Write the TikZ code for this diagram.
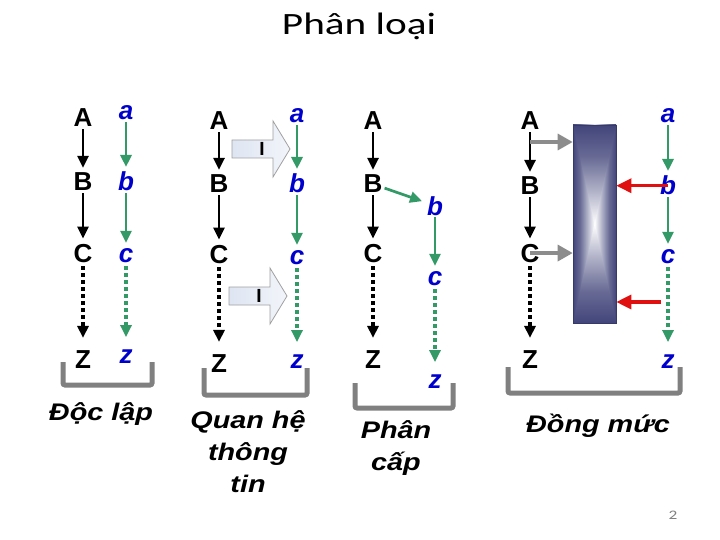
\documentclass[tikz,border=0pt]{standalone}
\usepackage{fontspec}
\setmainfont{Liberation Sans}
\newfontfamily\labelfont[FakeStretch=1.2]{Liberation Sans}
\newfontfamily\titlefont[FakeStretch=1.33]{Carlito}
\usetikzlibrary{arrows.meta}
\colorlet{letterBlue}{blue!80!black}
\definecolor{flowGreen}{RGB}{51,153,102}
\colorlet{bracketGray}{gray}
\definecolor{pushGrayColor}{RGB}{140,140,140}
\definecolor{pushRedColor}{RGB}{225,16,16}
\definecolor{gateDark}{RGB}{66,69,122}
\definecolor{gateEdge}{RGB}{55,58,105}
\definecolor{blockFill}{RGB}{222,229,242}
\definecolor{blockEdge}{RGB}{160,160,160}
\colorlet{gateMid}{gateDark!80!white}
\colorlet{gateLight}{gateDark!40!white}
\pgfdeclarehorizontalshading{gateAcross}{100bp}{color(0bp)=(gateDark); color(25bp)=(gateDark); color(33bp)=(gateMid); color(42bp)=(gateLight); color(50bp)=(white); color(58bp)=(gateLight); color(67bp)=(gateMid); color(75bp)=(gateDark); color(100bp)=(gateDark)}
\pgfdeclareverticalshading{gateAlong}{100bp}{color(0bp)=(gateDark); color(25bp)=(gateDark); color(33bp)=(gateMid); color(42bp)=(gateLight); color(50bp)=(white); color(58bp)=(gateLight); color(67bp)=(gateMid); color(75bp)=(gateDark); color(100bp)=(gateDark)}

\begin{document}
\begin{tikzpicture}[x=1pt,y=-1pt,
bigLetter/.style={font=\bfseries\fontsize{26}{26}\selectfont,inner sep=2pt,anchor=base},
smallLetter/.style={font=\bfseries\itshape\fontsize{26}{26}\selectfont,text=letterBlue,inner sep=2pt,anchor=base},
chainArrow/.style={line width=2.7pt,-{Triangle[width=11pt,length=12pt]},shorten >=3pt},
chainDots/.style={chainArrow,line width=3.4pt,dash pattern=on 4pt off 3pt,shorten >=10pt,shorten <=2pt},
flowArrow/.style={chainArrow,flowGreen},
flowDots/.style={chainDots,flowGreen},
pushGray/.style={pushGrayColor,line width=3.2pt,-{Triangle[width=16pt,length=15pt]}},
pushRed/.style={pushRedColor,line width=3.2pt,-{Triangle[width=14pt,length=15pt]}},
bracketLine/.style={bracketGray,line width=5pt,rounded corners=2pt},
caption/.style={font=\labelfont\bfseries\itshape\fontsize{24}{32}\selectfont,align=center,anchor=base,inner sep=0pt},
infoMark/.style={font=\bfseries\fontsize{19}{19}\selectfont,inner sep=0pt},
infoArrow/.pic={
\draw[blockEdge,line width=0.8pt,left color=blockFill,right color=blockFill!40!white]
(0,-9) -- (41,-9) -- (41,-28) -- (58,0) -- (41,28) -- (41,9) -- (0,9) -- cycle;
\node[infoMark] (-mark) at (30,0) {I};
},
gate/.style={draw=gateEdge,line width=0.6pt,minimum width=43pt,minimum height=198pt,inner sep=0pt,
path picture={
\shade[shading=gateAcross] (path picture bounding box.south west) rectangle (path picture bounding box.north east);
\begin{scope}
\clip (path picture bounding box.north west) -- (path picture bounding box.north east) -- (path picture bounding box.center) -- cycle
(path picture bounding box.south west) -- (path picture bounding box.south east) -- (path picture bounding box.center) -- cycle;
\shade[shading=gateAlong] (path picture bounding box.south west) rectangle (path picture bounding box.north east);
\end{scope}
}}]
\fill[white] (0,0) rectangle (720,540);
\useasboundingbox (0,0) rectangle (720,540);

\node[font=\titlefont\fontsize{31}{31}\selectfont,anchor=base,inner sep=0pt] (heading) at (359,35) {Phân loại};

% doc lap
\node[bigLetter] (A1) at (83,127) {A};
\node[bigLetter] (B1) at (83,191) {B};
\node[bigLetter] (C1) at (83,262) {C};
\node[bigLetter] (Z1) at (83,368) {Z};
\node[smallLetter] (a1) at (126,120) {a};
\node[smallLetter] (b1) at (126,191) {b};
\node[smallLetter] (c1) at (126,262) {c};
\node[smallLetter] (z1) at (126,363) {z};
\draw[chainArrow] (A1) -- (B1);
\draw[chainArrow] (B1) -- (C1);
\draw[chainDots] (C1) -- (Z1);
\draw[flowArrow] (a1) -- (b1);
\draw[flowArrow] (b1) -- (c1);
\draw[flowDots] (c1) -- (z1);
\draw[bracketLine] (63,362) |- (152,385) -- (152,362);
\node[caption] (indep) at (101,420) {Độc lập};

% quan he thong tin
\node[bigLetter] (A2) at (219,130) {A};
\node[bigLetter] (B2) at (219,193) {B};
\node[bigLetter] (C2) at (219,263) {C};
\node[bigLetter] (Z2) at (219,372) {Z};
\node[smallLetter] (a2) at (297,123) {a};
\node[smallLetter] (b2) at (297,193) {b};
\node[smallLetter] (c2) at (297,264) {c};
\node[smallLetter] (z2) at (297,368) {z};
\draw[chainArrow] (A2) -- (B2);
\draw[chainArrow] (B2) -- (C2);
\draw[chainDots] (C2) -- (Z2);
\draw[flowArrow] (a2) -- (b2);
\draw[flowArrow] (b2) -- (c2);
\draw[flowDots] (c2) -- (z2);
\pic (inform1) at (232,149) {infoArrow};
\pic (inform2) at (229,296) {infoArrow};
\draw[bracketLine] (204,368) |- (307,395) -- (307,368);
\node[caption] (relate) at (248,492) {Quan hệ\\thông\\tin};

% phan cap
\node[bigLetter] (A3) at (373,130) {A};
\node[bigLetter] (B3) at (373,193) {B};
\node[bigLetter] (C3) at (373,262) {C};
\node[bigLetter] (Z3) at (373,368) {Z};
\node[smallLetter] (b3) at (435,215) {b};
\node[smallLetter] (c3) at (435,285) {c};
\node[smallLetter] (z3) at (435,388) {z};
\draw[chainArrow] (A3) -- (B3);
\draw[chainArrow] (B3) -- (C3);
\draw[chainDots] (C3) -- (Z3);
\draw[flowArrow] (B3) -- (b3);
\draw[flowArrow] (b3) -- (c3);
\draw[flowDots] (c3) -- (z3);
\draw[bracketLine] (355,383) |- (453,408) -- (453,383);
\node[caption] (level) at (396,470) {Phân\\cấp};

% dong muc
\node[bigLetter] (A4) at (530,130) {A};
\node[bigLetter] (B4) at (530,195) {B};
\node[bigLetter] (C4) at (530,262) {C};
\node[bigLetter] (Z4) at (530,368) {Z};
\node[smallLetter] (a4) at (668,123) {a};
\node[smallLetter] (b4) at (668,195) {b};
\node[smallLetter] (c4) at (668,263) {c};
\node[smallLetter] (z4) at (668,368) {z};
\draw[chainArrow] (A4) -- (B4);
\draw[chainArrow] (B4) -- (C4);
\draw[chainDots] (C4) -- (Z4);
\draw[flowArrow] (a4) -- (b4);
\draw[flowArrow] (b4) -- (c4);
\draw[flowDots] (c4) -- (z4);
\node[gate] (gate) at (594.5,224) {};
\coordinate (pushA) at (530,142);
\coordinate (pushC) at (661,302);
\draw[pushGray] (pushA) -- (pushA -| gate.west);
\draw[pushGray] (C4.center) -- (C4.center -| gate.west);
\draw[pushRed] (b4.center) -- (b4.center -| gate.east);
\draw[pushRed] (pushC) -- (pushC -| gate.east);
\draw[bracketLine] (508,367) |- (680,393) -- (680,367);
\node[caption] (peer) at (598,432) {Đồng mức};

\node[font=\titlefont\fontsize{13}{13}\selectfont,text=gray,anchor=base,inner sep=0pt] (pageNum) at (673,519) {2};
\end{tikzpicture}
\end{document}
